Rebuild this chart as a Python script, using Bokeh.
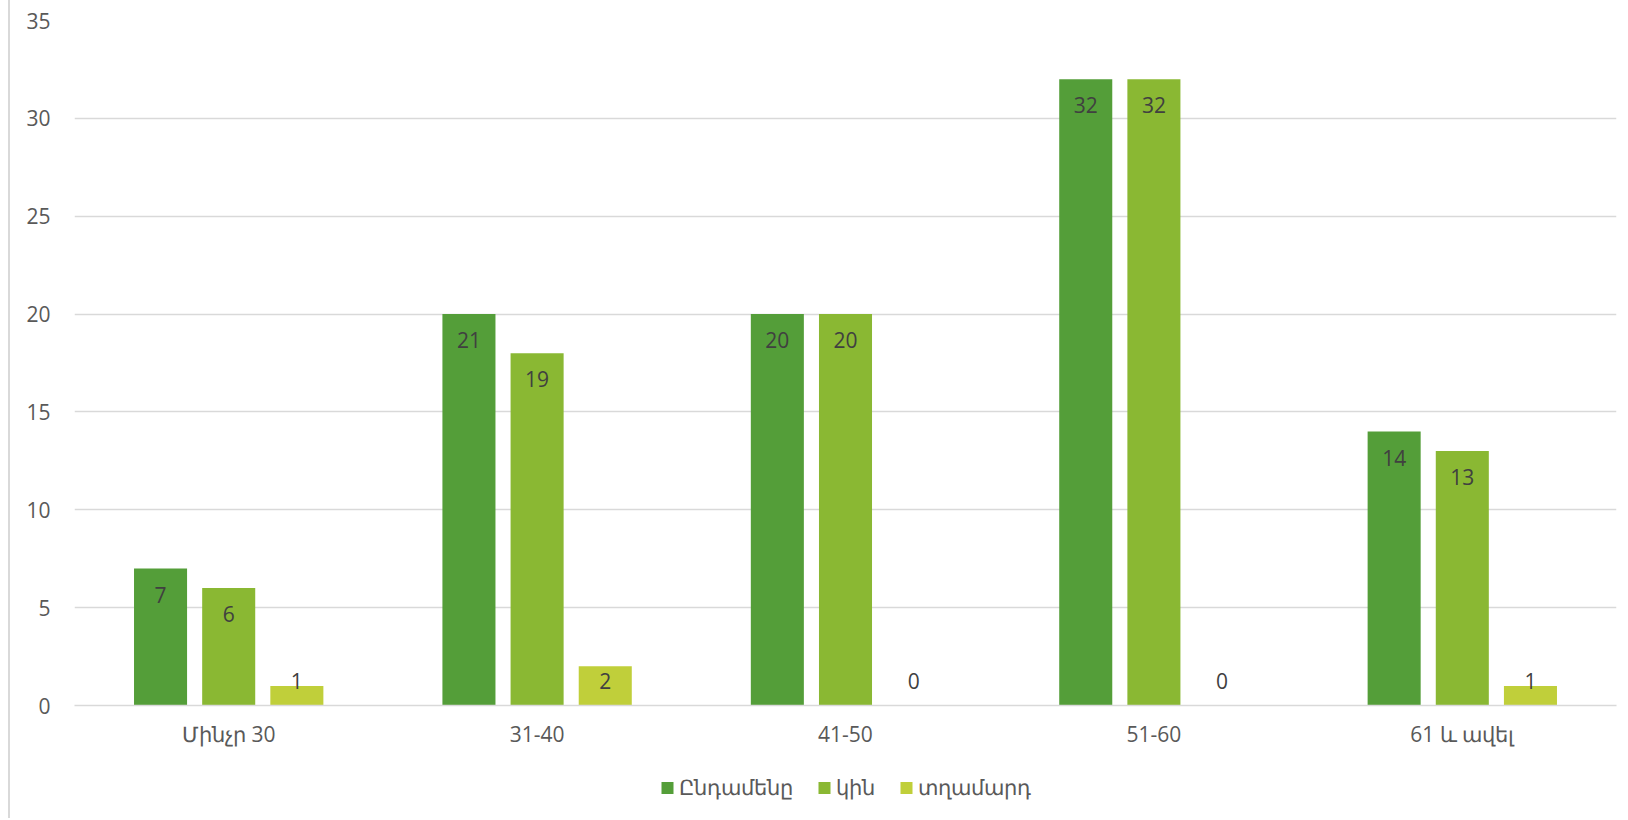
from bokeh.plotting import figure
from bokeh.layouts import column
from bokeh.models import ColumnDataSource, FactorRange, Range1d, Legend, LegendItem, FixedTicker
from bokeh.transform import dodge
from bokeh.core.properties import value
from bokeh.embed import file_html
from bokeh.resources import INLINE

categories = ["Մինչր 30", "31-40", "41-50", "51-60", "61 և ավել"]
series_names = ["Ընդամենը", "կին", "տղամարդ"]
total_vals = [7, 20, 20, 32, 14]
women_vals = [6, 18, 20, 32, 13]
men_vals = [1, 2, 0, 0, 1]
total_labels = ["7", "21", "20", "32", "14"]
women_labels = ["6", "19", "20", "32", "13"]
men_labels = ["1", "2", "0", "0", "1"]
y_ticks = [0, 5, 10, 15, 20, 25, 30, 35]

colors = ["#549E39", "#8AB833", "#C0CF3A"]
FONT = "Open Sans"
TEXT = "#595959"
BORDER = {"border-left": "2px solid #d9d9d9", "margin-left": "8px"}

p = figure(x_range=FactorRange(*categories), y_range=Range1d(0, 35),
           frame_width=1540, frame_height=685,
           min_border_left=64, min_border_top=20, min_border_right=4, min_border_bottom=45,
           output_backend="svg", toolbar_location=None)
p.styles = BORDER
p.outline_line_color = None

src = ColumnDataSource(dict(cat=categories))
series = [(total_vals, total_labels), (women_vals, women_labels), (men_vals, men_labels)]
offsets = [-0.221, 0.0, 0.221]
for i, ((vals, labs), off) in enumerate(zip(series, offsets)):
    key = f"v{i}"
    src.data[key] = vals
    src.data[f"l{i}"] = labs
    src.data[f"ly{i}"] = [max(v - 1.33, 1.25) for v in vals]
    p.vbar(x=dodge("cat", off, range=p.x_range), top=key, width=0.172, source=src,
           fill_color=colors[i], line_color=None)
for i, off in enumerate(offsets):
    p.text(x=dodge("cat", off, range=p.x_range), y=f"ly{i}", text=f"l{i}", source=src,
           text_align="center", text_baseline="middle", text_font=value(FONT),
           text_font_size="21px", text_color="#404040")

p.xgrid.grid_line_color = None
p.ygrid.grid_line_color = "#d9d9d9"
p.ygrid.grid_line_width = 1.5
p.yaxis.ticker = FixedTicker(ticks=y_ticks)
p.yaxis.axis_line_color = None
p.yaxis.major_tick_line_color = None
p.yaxis.minor_tick_line_color = None
p.yaxis.major_label_standoff = 18
p.xaxis.axis_line_color = "#d9d9d9"
p.xaxis.axis_line_width = 1.5
p.xaxis.major_tick_line_color = None
p.xaxis.minor_tick_line_color = None
p.xaxis.major_label_standoff = 8
for ax in (p.xaxis, p.yaxis):
    ax.major_label_text_font = FONT
    ax.major_label_text_font_size = "21px"
    ax.major_label_text_color = TEXT

# legend strip below the chart; its bars share the data but lie outside its visible range
lg = figure(width=1610, height=68, x_range=FactorRange(*categories), y_range=Range1d(100, 101),
            min_border_left=4, min_border_right=0, min_border_top=6, min_border_bottom=0,
            output_backend="svg", toolbar_location=None)
lg.styles = BORDER
lg.axis.visible = False
lg.grid.grid_line_color = None
lg.outline_line_color = None
items = []
for i, name in enumerate(series_names):
    r = lg.vbar(x="cat", top=f"v{i}", width=0.172, source=src,
                fill_color=colors[i], line_color=None)
    items.append(LegendItem(label=name, renderers=[r]))
legend = Legend(items=items, orientation="horizontal", location="center",
                glyph_width=15, glyph_height=15, label_standoff=4, spacing=24,
                label_text_font=FONT, label_text_font_size="21px", label_text_color=TEXT,
                border_line_color=None, background_fill_alpha=0, margin=0, padding=2)
lg.add_layout(legend, "center")

layout = column(p, lg, spacing=0)
open("out.html", "w").write(file_html(layout, INLINE))
